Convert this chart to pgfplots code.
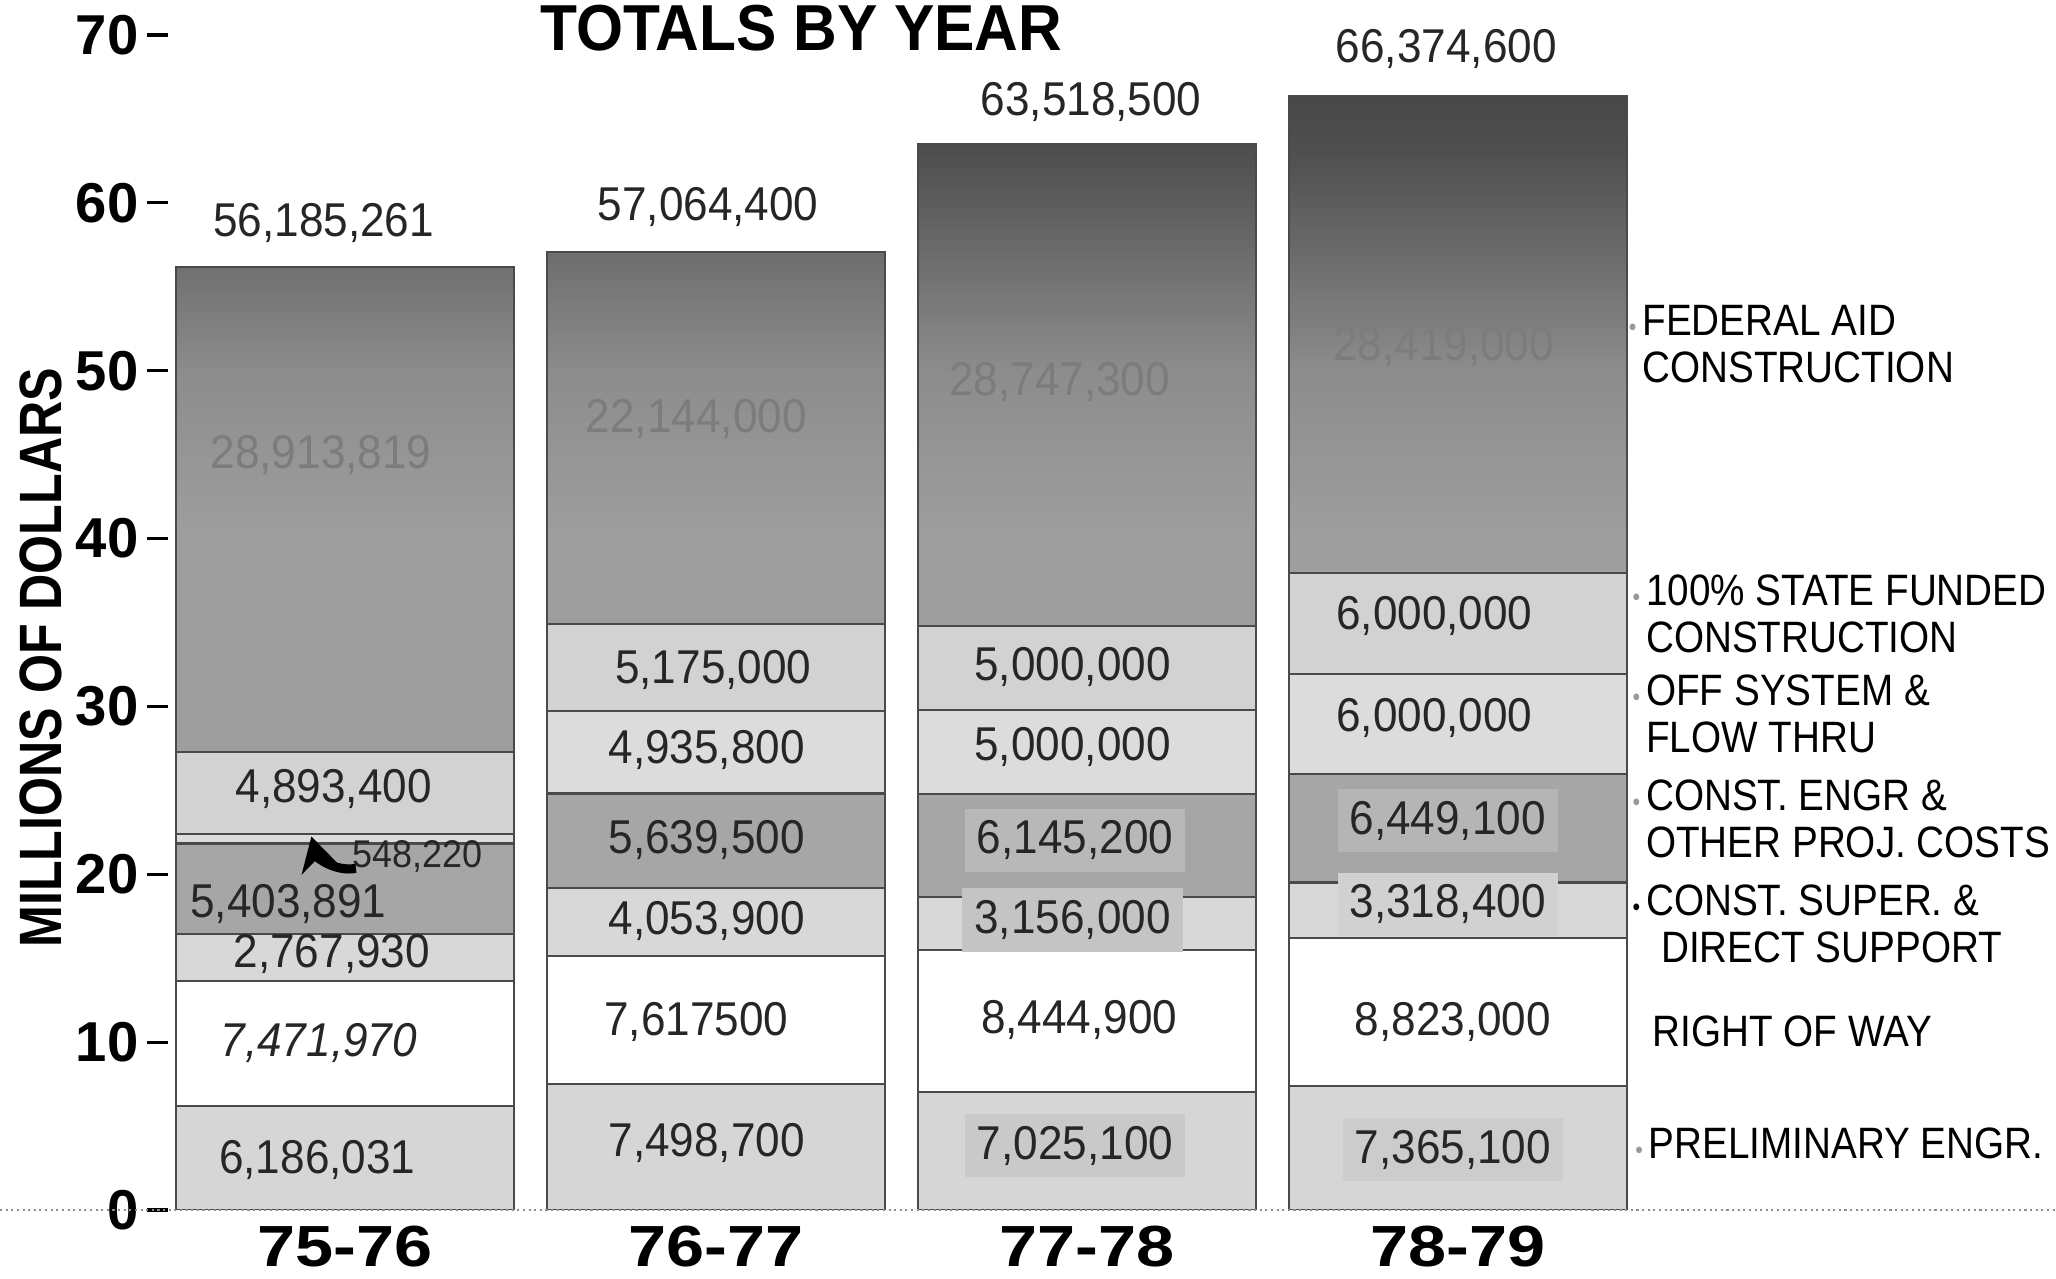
\documentclass[border=0pt]{standalone}
\usepackage{fontspec}
\setmainfont{Liberation Sans}
\newfontfamily\valfont[FakeStretch=0.93]{Liberation Sans}
\newfontfamily\legfont[FakeStretch=0.88]{Liberation Sans}
\newfontfamily\ylabfont[FakeStretch=0.84]{Liberation Sans}
\newfontfamily\titlefont[FakeStretch=0.93]{Liberation Sans}
\newfontfamily\catfont[FakeStretch=1.18]{Liberation Sans}
\usepackage{pgfplots}
\pgfplotsset{compat=1.18}
\usetikzlibrary{arrows.meta}

\definecolor{prelim}{HTML}{D6D6D6}
\definecolor{superv}{HTML}{D8D8D8}
\definecolor{engr}{HTML}{A6A6A6}
\definecolor{offsys}{HTML}{DCDCDC}
\definecolor{statef}{HTML}{D2D2D2}
\definecolor{edge}{HTML}{4A4A4A}
\definecolor{valtext}{HTML}{262626}
\definecolor{fedtext}{HTML}{7C7C7C}

\pgfdeclareverticalshading{fedA}{100bp}{rgb(0bp)=(0.62,0.62,0.62); rgb(60.6bp)=(0.62,0.62,0.62); rgb(69.5bp)=(0.55,0.55,0.55); rgb(75bp)=(0.44,0.44,0.44); rgb(100bp)=(0.44,0.44,0.44)}
\pgfdeclareverticalshading{fedB}{100bp}{rgb(0bp)=(0.62,0.62,0.62); rgb(60.05bp)=(0.62,0.62,0.62); rgb(68.8bp)=(0.55,0.55,0.55); rgb(75bp)=(0.43,0.43,0.43); rgb(100bp)=(0.43,0.43,0.43)}
\pgfdeclareverticalshading{fedC}{100bp}{rgb(0bp)=(0.62,0.62,0.62); rgb(56.5bp)=(0.62,0.62,0.62); rgb(64.4bp)=(0.55,0.55,0.55); rgb(69.9bp)=(0.42,0.42,0.42); rgb(75bp)=(0.30,0.30,0.30); rgb(100bp)=(0.30,0.30,0.30)}
\pgfdeclareverticalshading{fedD}{100bp}{rgb(0bp)=(0.62,0.62,0.62); rgb(55.1bp)=(0.62,0.62,0.62); rgb(62.7bp)=(0.55,0.55,0.55); rgb(67.9bp)=(0.42,0.42,0.42); rgb(72.5bp)=(0.31,0.31,0.31); rgb(75bp)=(0.28,0.28,0.28); rgb(100bp)=(0.28,0.28,0.28)}

\pgfplotsset{
  base/.style={
    scale only axis, width=188.8mm, height=117.5mm,
    xmin=-0.4764, xmax=4.611, ymin=0, ymax=70,
  },
}
\newcommand{\val}[4][]{\node[font=\valfont\fontsize{13.5}{14}\selectfont, text=valtext, inner sep=1.2mm, #1] at (axis cs:#2,#3) {#4};}
\newcommand{\fedval}[3]{\node[font=\valfont\fontsize{13.5}{14}\selectfont, text=fedtext] at (axis cs:#1,#2) {#3};}
\newcommand{\leg}[4][black!40]{\node[font=\legfont\fontsize{12.5}{13.4}\selectfont, align=left, anchor=west, inner sep=0pt] at (axis cs:#2,#3) {\llap{\textcolor{#1}{\fontsize{7}{7}\selectfont\textbullet}\hspace{0.6mm}}#4};}

\begin{document}
\begin{tikzpicture}
% background axis: ticks, labels and the federal aid bars (drawn to the bar totals)
\begin{axis}[base, name=main,
  axis line style={draw=none},
  tick align=outside, major tick length=2.1mm,
  ytick={0,10,20,30,40,50,60,70},
  yticklabels={0,10,20,30,40,50,60,70},
  ytick style={draw=black, line width=0.9pt},
  yticklabel style={font=\bfseries\fontsize{16}{17}\selectfont, inner xsep=0.8mm},
  xtick={0,1,2,3},
  xticklabels={75-76,76-77,77-78,78-79},
  xtick style={draw=none},
  xticklabel style={font=\catfont\bfseries\fontsize{16.5}{17}\selectfont, inner ysep=0pt, yshift=0.6mm},
  ylabel={MILLIONS OF DOLLARS},
  every axis y label/.style={at={(rel axis cs:-0.0675,0.47)}, rotate=90, anchor=center,
     font=\ylabfont\bfseries\fontsize{17}{18}\selectfont},
]
\addplot[ybar, bar width=0.912, bar shift=0, draw=edge, line width=0.6pt, shade, shading=fedA, forget plot] coordinates {(0,56.185261)};
\addplot[ybar, bar width=0.912, bar shift=0, draw=edge, line width=0.6pt, shade, shading=fedB, forget plot] coordinates {(1,57.0644)};
\addplot[ybar, bar width=0.912, bar shift=0, draw=edge, line width=0.6pt, shade, shading=fedC, forget plot] coordinates {(2,63.5185)};
\addplot[ybar, bar width=0.912, bar shift=0, draw=edge, line width=0.6pt, shade, shading=fedD, forget plot] coordinates {(3,66.3746)};
\end{axis}

% middle axis: the stacked lower components
\begin{axis}[base, at={(main.south west)}, anchor=south west,
  hide axis,
  ybar stacked, bar width=0.912,
  every axis plot/.append style={draw=edge, line width=0.6pt},
]
% preliminary engineering
\addplot[fill=prelim] coordinates {(0,6.186031) (1,7.4987) (2,7.0251) (3,7.3651)};
% right of way
\addplot[fill=white] coordinates {(0,7.47197) (1,7.6175) (2,8.4449) (3,8.823)};
% construction supervision & direct support
\addplot[fill=superv] coordinates {(0,2.76793) (1,4.0539) (2,3.156) (3,3.3184)};
% construction engineering & other project costs
\addplot[fill=engr] coordinates {(0,5.403891) (1,5.6395) (2,6.1452) (3,6.4491)};
% off system & flow thru
\addplot[fill=offsys] coordinates {(0,0.54822) (1,4.9358) (2,5.0) (3,6.0)};
% 100% state funded construction
\addplot[fill=statef] coordinates {(0,4.8934) (1,5.175) (2,5.0) (3,6.0)};
\end{axis}

% top axis: annotations
\begin{axis}[base, at={(main.south west)}, anchor=south west,
  hide axis, clip=false]
% baseline
\draw[black!45, densely dotted, line width=0.6pt] (axis cs:-0.929,0) -- (axis cs:4.611,0);

% title
\node[font=\titlefont\bfseries\fontsize{18.5}{19}\selectfont, anchor=base] at (axis cs:1.23,69.05) {TOTALS BY YEAR};

% totals
\val{-0.057}{58.83}{56,185,261}
\val{0.979}{59.77}{57,064,400}
\val{2.011}{66.0}{63,518,500}
\val{2.968}{69.14}{66,374,600}

% federal aid values
\fedval{-0.064}{45.0}{28,913,819}
\fedval{0.947}{47.1}{22,144,000}
\fedval{1.926}{49.3}{28,747,300}
\fedval{2.961}{51.4}{28,419,000}

% 75-76
\val{-0.03}{25.08}{4,893,400}
\node[font=\valfont\fontsize{11}{12}\selectfont, text=valtext] at (axis cs:0.197,21.05) {548,220};
\draw[line width=2.6pt, -{Stealth[length=3.4mm,width=3.8mm]}] (axis cs:0.03,20.35) to[out=190,in=-75] (axis cs:-0.09,22.25);
\val{-0.152}{18.2}{5,403,891}
\val{-0.035}{15.23}{2,767,930}
\val{-0.07}{9.92}{\textit{7,471,970}}
\val{-0.074}{2.97}{6,186,031}

% 76-77
\val{0.993}{32.19}{5,175,000}
\val{0.975}{27.42}{4,935,800}
\val{0.975}{22.03}{5,639,500}
\val{0.975}{17.19}{4,053,900}
\val{0.947}{11.17}{7,617500}
\val{0.975}{3.98}{7,498,700}

% 77-78
\val{1.961}{32.34}{5,000,000}
\val{1.961}{27.58}{5,000,000}
\val[fill=black!28]{1.968}{22.03}{6,145,200}
\val[fill=black!23]{1.961}{17.27}{3,156,000}
\val{1.979}{11.33}{8,444,900}
\val[fill=black!21]{1.968}{3.83}{7,025,100}

% 78-79
\val{2.936}{35.39}{6,000,000}
\val{2.936}{29.3}{6,000,000}
\val[fill=black!29]{2.972}{23.2}{6,449,100}
\val[fill=black!18]{2.972}{18.2}{3,318,400}
\val{2.986}{11.17}{8,823,000}
\val[fill=black!20]{2.986}{3.59}{7,365,100}

% category names at right
\leg{3.495}{51.6}{FEDERAL AID\\CONSTRUCTION}
\leg{3.505}{35.5}{100\% STATE FUNDED\\CONSTRUCTION}
\leg{3.505}{29.53}{OFF SYSTEM \&\\FLOW THRU}
\leg{3.505}{23.28}{CONST. ENGR \&\\OTHER PROJ. COSTS}
\leg[black]{3.505}{17.03}{CONST. SUPER. \&\\\hspace*{1.5mm}DIRECT SUPPORT}
\leg[white]{3.523}{10.63}{RIGHT OF WAY}
\leg{3.512}{3.98}{PRELIMINARY ENGR.}
\end{axis}

\pgfresetboundingbox
\path[use as bounding box] ([shift={(-16.8mm,-6.9mm)}]main.south west) rectangle ([shift={(0mm,3.5mm)}]main.north east);
\end{tikzpicture}
\end{document}
